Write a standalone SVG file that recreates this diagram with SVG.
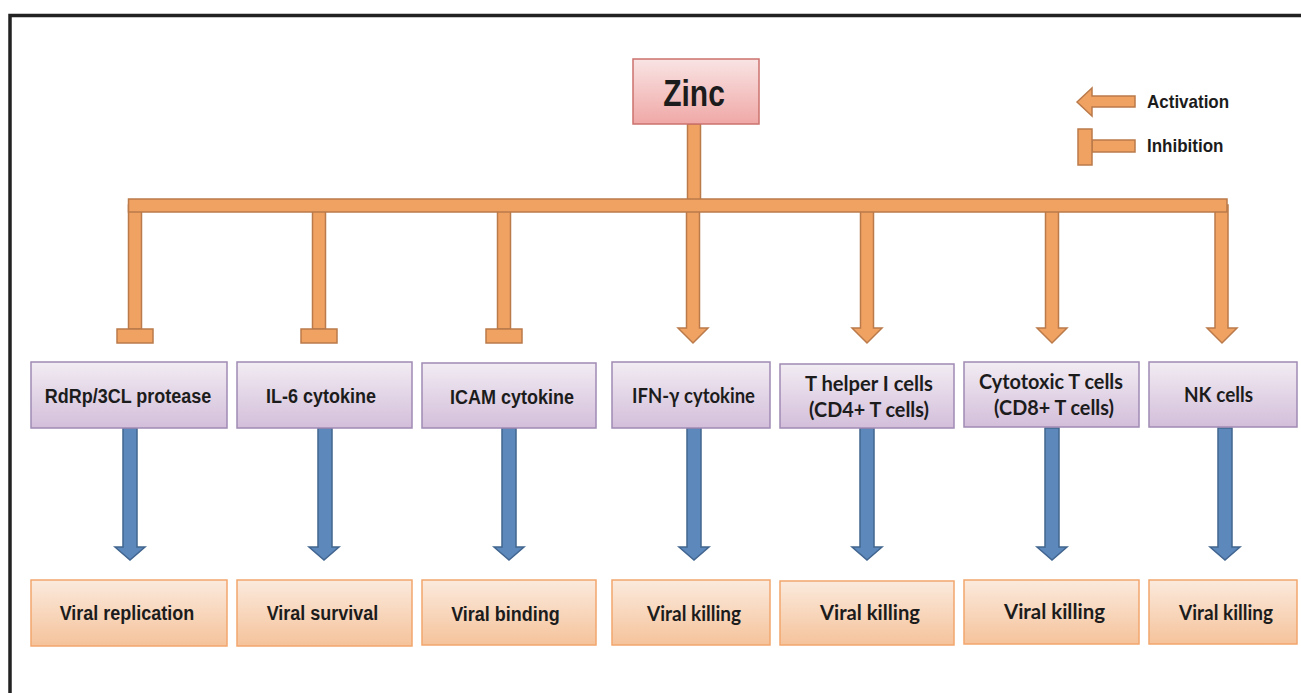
<svg xmlns="http://www.w3.org/2000/svg" width="1301" height="693" viewBox="0 0 1301 693">
<defs>
<linearGradient id="gPurple" x1="0" y1="0" x2="0" y2="1"><stop offset="0" stop-color="#F2ECF3"/><stop offset="1" stop-color="#D3BEDA"/></linearGradient>
<linearGradient id="gOrange" x1="0" y1="0" x2="0" y2="1"><stop offset="0" stop-color="#FBEADD"/><stop offset="1" stop-color="#F5C39B"/></linearGradient>
<linearGradient id="gZinc" x1="0" y1="0" x2="0" y2="1"><stop offset="0" stop-color="#F9E4E4"/><stop offset="1" stop-color="#EFA8A6"/></linearGradient>
<style>
.pbox{fill:url(#gPurple);stroke:#A08AB4;stroke-width:1.5}
.obox{fill:url(#gOrange);stroke:#F2A66E;stroke-width:1.5}
.zbox{fill:url(#gZinc);stroke:#CC726E;stroke-width:1.5}
.oc{fill:#F0A263;stroke:#BA7A4A;stroke-width:1.5}
.bc{fill:#5C88BC;stroke:#41658F;stroke-width:1.5}
.ta{font-family:"Liberation Sans",Arial,sans-serif;font-weight:bold;font-size:18px;fill:#1C1C1C;text-anchor:middle}
.tz{font-family:"Liberation Sans",Arial,sans-serif;font-weight:bold;font-size:30px;fill:#1C1C1C;text-anchor:middle}
.tc{font-family:Lato,"Noto Sans",sans-serif;font-weight:bold;font-size:20px;fill:#1C1C1C;text-anchor:middle}
.tl{font-family:"Liberation Sans",Arial,sans-serif;font-weight:bold;font-size:17px;fill:#1C1C1C}
</style>
</defs>
<rect width="1301" height="693" fill="#FFFFFF"/>
<path d="M10,693 V15.5 H1301" fill="none" stroke="#222222" stroke-width="3.5"/>

<g id="connectors">
  <rect class="oc" x="687.5" y="124" width="13" height="76"/>
  <!-- inhibition branches -->
  <rect class="oc" x="128.5" y="205" width="13" height="124"/>
  <rect class="oc" x="117" y="329" width="36" height="14"/>
  <rect class="oc" x="312.5" y="205" width="13" height="124"/>
  <rect class="oc" x="301" y="329" width="36" height="14"/>
  <rect class="oc" x="497.5" y="205" width="13" height="124"/>
  <rect class="oc" x="486" y="329" width="36" height="14"/>
  <!-- activation branches -->
  <polygon class="oc" points="686.5,205 699.5,205 699.5,328 708,328 693,343 678,328 686.5,328"/>
  <polygon class="oc" points="860.5,205 873.5,205 873.5,328 882,328 867,343 852,328 860.5,328"/>
  <polygon class="oc" points="1045.5,205 1058.5,205 1058.5,328 1067,328 1052,343 1037,328 1045.5,328"/>
  <polygon class="oc" points="1215,205 1228,205 1228,328 1237,328 1222,343 1207,328 1215,328"/>
  <rect class="oc" x="128.5" y="199" width="1098.5" height="13"/>
  <!-- blue arrows -->
  <polygon class="bc" points="123,428 137,428 137,547 145,547 130,560 115,547 123,547"/>
  <polygon class="bc" points="318,428 332,428 332,547 339,547 324,560 309,547 318,547"/>
  <polygon class="bc" points="502,428 516,428 516,547 524,547 509,560 494,547 502,547"/>
  <polygon class="bc" points="687,428 701,428 701,547 709,547 694,560 679,547 687,547"/>
  <polygon class="bc" points="860,428 874,428 874,547 882,547 867,560 852,547 860,547"/>
  <polygon class="bc" points="1045,428 1059,428 1059,547 1067,547 1052,560 1037,547 1045,547"/>
  <polygon class="bc" points="1218,428 1232,428 1232,547 1240,547 1225,560 1210,547 1218,547"/>
</g>

<g id="zinc">
  <rect class="zbox" x="633" y="59" width="126" height="65"/>
  <text class="tz" transform="translate(694,106) scale(1,1.25)">Zinc</text>
</g>

<g id="legend">
  <polygon class="oc" points="1077,102 1092,88 1092,96 1135,96 1135,107 1092,107 1092,116"/>
  <rect class="oc" x="1092" y="140" width="43" height="12"/>
  <rect class="oc" x="1078" y="129" width="14" height="36"/>
  <text class="tl" transform="translate(1147,108) scale(1,1.1)">Activation</text>
  <text class="tl" transform="translate(1147,152) scale(1,1.1)">Inhibition</text>
</g>

<g id="n-rdrp">
  <rect class="pbox" x="31" y="362" width="196" height="66"/>
  <text class="ta" transform="translate(128,403) scale(1,1.1)">RdRp/3CL protease</text>
</g>
<g id="n-il6">
  <rect class="pbox" x="237" y="362" width="175" height="66"/>
  <text class="ta" transform="translate(321,403) scale(1,1.1)">IL-6 cytokine</text>
</g>
<g id="n-icam">
  <rect class="pbox" x="422" y="363" width="174" height="65"/>
  <text class="ta" transform="translate(512,404) scale(1,1.1)">ICAM cytokine</text>
</g>
<g id="n-ifn">
  <rect class="pbox" x="612" y="362" width="158" height="66"/>
  <text class="tc" x="693.5" y="403" textLength="123" lengthAdjust="spacingAndGlyphs">IFN-γ cytokine</text>
</g>
<g id="n-th">
  <rect class="pbox" x="780" y="364" width="174" height="64"/>
  <text class="tc" x="869" y="391" textLength="128" lengthAdjust="spacingAndGlyphs">T helper I cells</text>
  <text class="tc" x="869" y="417" textLength="120" lengthAdjust="spacingAndGlyphs">(CD4+ T cells)</text>
</g>
<g id="n-ctl">
  <rect class="pbox" x="964" y="362" width="175" height="65"/>
  <text class="tc" x="1051" y="389" textLength="144" lengthAdjust="spacingAndGlyphs">Cytotoxic T cells</text>
  <text class="tc" x="1054" y="415" textLength="120" lengthAdjust="spacingAndGlyphs">(CD8+ T cells)</text>
</g>
<g id="n-nk">
  <rect class="pbox" x="1149" y="362" width="148" height="65"/>
  <text class="tc" x="1218.5" y="402" textLength="69" lengthAdjust="spacingAndGlyphs">NK cells</text>
</g>

<g id="o-replication">
  <rect class="obox" x="31" y="580" width="196" height="66"/>
  <text class="ta" transform="translate(127,620) scale(1,1.1)">Viral replication</text>
</g>
<g id="o-survival">
  <rect class="obox" x="237" y="580" width="175" height="66"/>
  <text class="ta" transform="translate(322.5,620) scale(1,1.1)">Viral survival</text>
</g>
<g id="o-binding">
  <rect class="obox" x="422" y="580" width="174" height="65"/>
  <text class="ta" transform="translate(505.5,621) scale(1,1.1)">Viral binding</text>
</g>
<g id="o-kill-ifn">
  <rect class="obox" x="612" y="580" width="158" height="65"/>
  <text class="tc" x="694" y="621" textLength="94" lengthAdjust="spacingAndGlyphs">Viral killing</text>
</g>
<g id="o-kill-th">
  <rect class="obox" x="780" y="581" width="174" height="64"/>
  <text class="tc" x="870" y="620" textLength="100" lengthAdjust="spacingAndGlyphs">Viral killing</text>
</g>
<g id="o-kill-ctl">
  <rect class="obox" x="964" y="580" width="175" height="64"/>
  <text class="tc" x="1054.5" y="619" textLength="101" lengthAdjust="spacingAndGlyphs">Viral killing</text>
</g>
<g id="o-kill-nk">
  <rect class="obox" x="1149" y="580" width="148" height="64"/>
  <text class="tc" x="1226" y="620" textLength="94" lengthAdjust="spacingAndGlyphs">Viral killing</text>
</g>
</svg>
